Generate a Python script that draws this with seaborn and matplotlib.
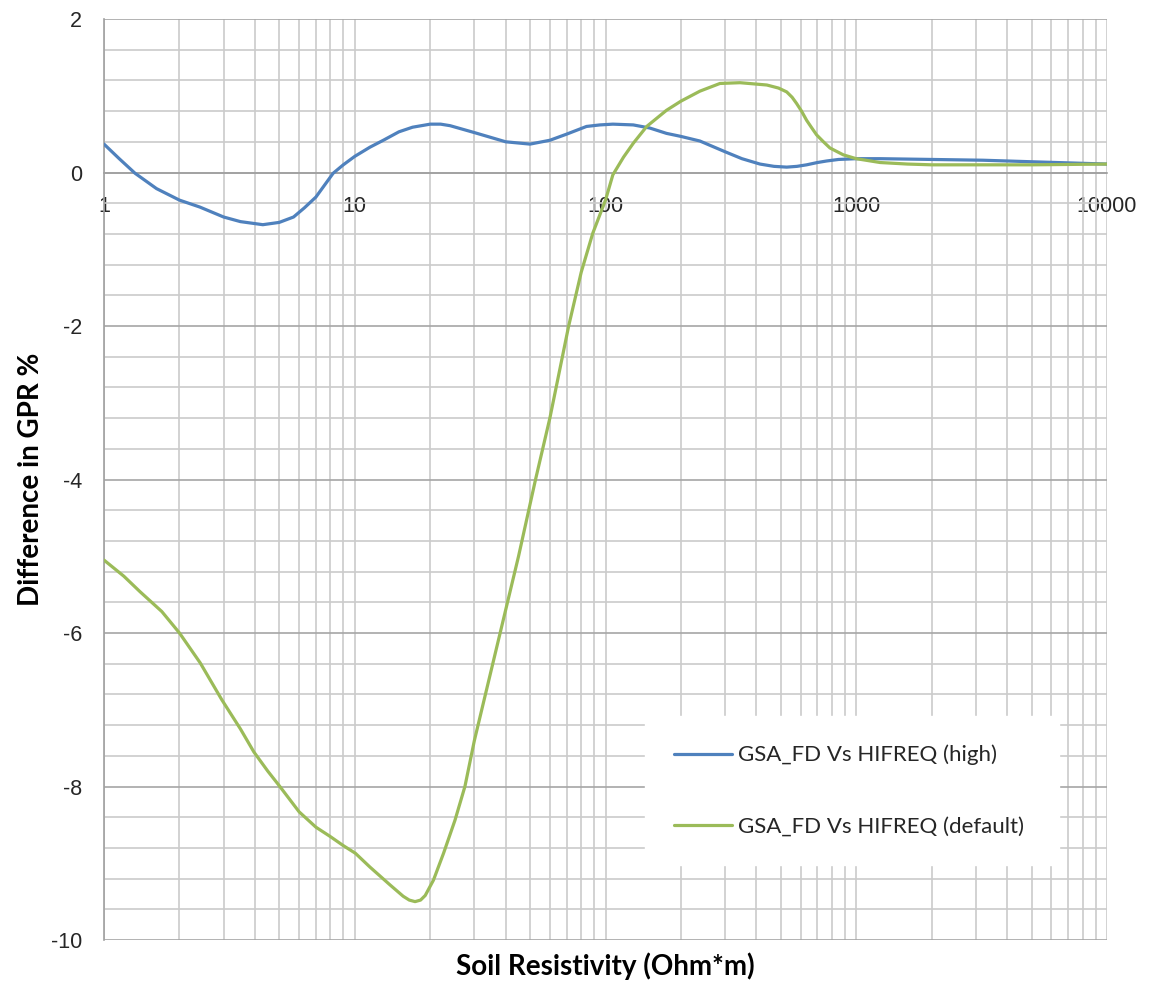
import pandas as pd
import matplotlib
matplotlib.use('Agg')
import matplotlib.pyplot as plt
import matplotlib.ticker as mticker
import seaborn as sns

# Values
high_x = [1, 1.15, 1.33, 1.62, 2, 2.41, 3, 3.5, 4.3, 5, 5.7, 6.3, 7, 8.2, 9, 10, 11.5, 13,
          15, 17, 20, 22, 24, 30, 40, 50, 60, 70, 84, 95, 107, 129, 150, 175, 200, 238,
          300, 350, 413, 470, 528, 580, 634, 700, 762, 850, 1000, 1245, 2000, 3200,
          5000, 10000]
high_y = [0.37, 0.18, -0.01, -0.21, -0.36, -0.45, -0.58, -0.64, -0.68, -0.65, -0.58, -0.46,
          -0.32, -0.01, 0.10, 0.21, 0.33, 0.42, 0.53, 0.59, 0.63, 0.63, 0.61, 0.52, 0.40,
          0.37, 0.42, 0.50, 0.60, 0.62, 0.63, 0.62, 0.58, 0.51, 0.47, 0.41, 0.27, 0.18,
          0.11, 0.08, 0.07, 0.08, 0.10, 0.13, 0.15, 0.17, 0.18, 0.18, 0.17, 0.16, 0.14, 0.11]

default_x = [1, 1.2, 1.39, 1.7, 2, 2.42, 2.95, 3.5, 3.96, 4.5, 5, 6, 7, 7.97, 9, 10.06,
             11.5, 13.8, 15.6, 16.5, 17.4, 18.3, 19.1, 20.6, 22.6, 25.1, 27.5, 30, 38, 45,
             52.6, 60, 71.3, 80, 89, 100, 107, 118, 129, 146, 175, 200, 238, 286, 344, 440,
             490, 528, 555, 578, 605, 634, 665, 695, 740, 785, 888, 1000, 1245, 1600, 2000,
             3000, 5000, 10000]
default_y = [-5.05, -5.26, -5.46, -5.72, -6.0, -6.39, -6.87, -7.25, -7.55, -7.8, -7.99, -8.33,
             -8.53, -8.65, -8.77, -8.87, -9.05, -9.28, -9.43, -9.48, -9.50, -9.48, -9.42,
             -9.22, -8.87, -8.44, -8.0, -7.4, -6.0, -5.0, -4.0, -3.2, -2.0, -1.3, -0.79,
             -0.36, -0.03, 0.2, 0.38, 0.60, 0.81, 0.93, 1.06, 1.16, 1.17, 1.14, 1.10, 1.05,
             0.98, 0.90, 0.80, 0.68, 0.58, 0.49, 0.40, 0.32, 0.23, 0.18, 0.13, 0.11, 0.10,
             0.10, 0.10, 0.11]

label_high = 'GSA_FD Vs HIFREQ (high)'
label_default = 'GSA_FD Vs HIFREQ (default)'

df = pd.concat([
    pd.DataFrame({'x': high_x, 'y': high_y, 'series': label_high}),
    pd.DataFrame({'x': default_x, 'y': default_y, 'series': label_default}),
])

sns.set_style('white')
plt.rcParams['font.family'] = ['Liberation Sans', 'DejaVu Sans']
plt.rcParams['axes.unicode_minus'] = False
plt.rcParams['lines.solid_joinstyle'] = 'round'

fig = plt.figure(figsize=(11.53, 9.86), dpi=100)
ax = fig.add_axes([104 / 1153, 1 - 940 / 986, 1003 / 1153, 921 / 986])

sns.lineplot(data=df, x='x', y='y', hue='series', sort=False,
             palette={label_high: '#4F81BD', label_default: '#9BBB59'},
             linewidth=2.3, ax=ax, zorder=3)

ax.set_xscale('log')
ax.set_xlim(1, 10000)
ax.set_ylim(-10, 2)
ax.xaxis.set_major_locator(mticker.LogLocator(base=10, numticks=10))
ax.xaxis.set_minor_locator(mticker.LogLocator(base=10, subs=range(2, 10), numticks=50))
ax.xaxis.set_major_formatter(mticker.FuncFormatter(lambda v, p: f'{v:.0f}'))
ax.xaxis.set_minor_formatter(mticker.NullFormatter())
ax.yaxis.set_major_locator(mticker.MultipleLocator(2))
ax.yaxis.set_minor_locator(mticker.MultipleLocator(0.4))
ax.yaxis.set_major_formatter(mticker.FuncFormatter(lambda v, p: f'{v:.0f}'))

ax.grid(which='major', axis='y', color='#A6A6A6', linewidth=1.2)
ax.grid(which='minor', axis='y', color='#CBCBCB', linewidth=1.2)
ax.grid(which='both', axis='x', color='#CBCBCB', linewidth=1.2)
ax.set_axisbelow(True)

for s in ['top', 'right']:
    ax.spines[s].set_visible(False)
ax.spines['left'].set_color('#A0A0A0')
ax.spines['left'].set_linewidth(1.2)
ax.spines['bottom'].set_position(('data', 0))
ax.spines['bottom'].set_color('#A0A0A0')
ax.spines['bottom'].set_linewidth(1.2)

ax.tick_params(axis='y', which='major', direction='out', length=6, width=1.2,
               color='#A0A0A0', pad=10, labelsize=15.5, labelcolor='#262626')
ax.tick_params(axis='x', which='major', direction='out', length=4, width=1.2,
               color='#A0A0A0', pad=13, labelsize=15.5, labelcolor='#262626')
ax.tick_params(which='minor', length=0)

ax.set_xlabel('Soil Resistivity (Ohm*m)', fontsize=20, fontweight='bold',
              family=['Lato', 'DejaVu Sans'], color='#000000')
ax.set_ylabel('Difference in GPR %', fontsize=20, fontweight='bold',
              family=['Lato', 'DejaVu Sans'], color='#000000')
ax.xaxis.set_label_coords(0.5, -0.0282)
ax.xaxis.label.set_va('center')
ax.yaxis.set_label_coords(-0.0728, 0.5)
ax.yaxis.label.set_va('center')

leg = ax.legend(loc='center', bbox_to_anchor=(0.539, 0.0836, 0.413, 0.157), mode='expand',
                frameon=True, fancybox=False, framealpha=1, edgecolor='white',
                facecolor='white', prop={'family': ['Lato', 'DejaVu Sans'], 'size': 16},
                handlelength=2.65, handletextpad=0.27, labelspacing=2.3, borderpad=1.3,
                borderaxespad=0)
leg.set_zorder(5)
for t in leg.get_texts():
    t.set_color('#262626')

fig.savefig('out.png', dpi=100)
